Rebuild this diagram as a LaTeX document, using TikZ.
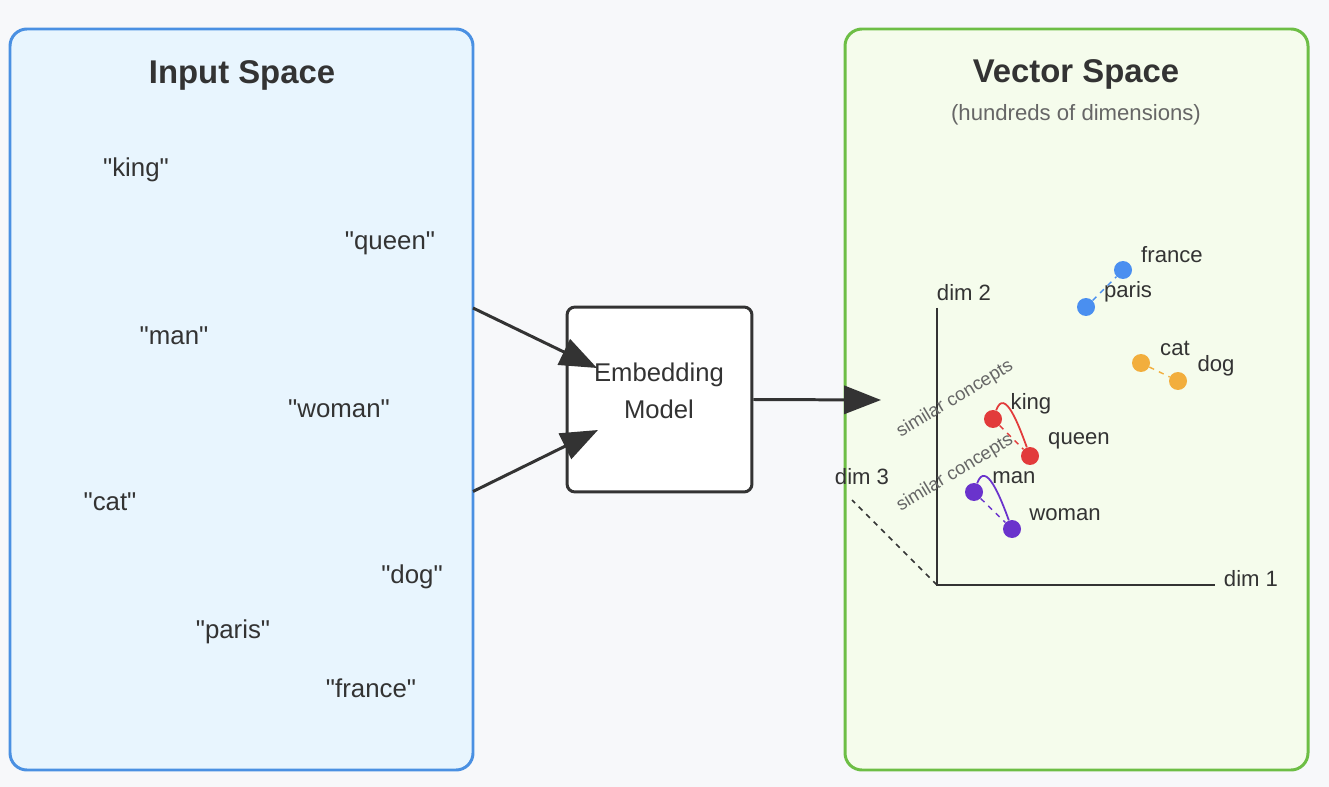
\documentclass[tikz,border=0pt]{standalone}
\usepackage{fontspec}
\setmainfont{Liberation Sans}
\usetikzlibrary{arrows.meta, positioning}
\definecolor{pagebg}{HTML}{F7F8FA}
\definecolor{inblue}{HTML}{4A90E2}
\definecolor{inbluebg}{HTML}{E8F5FE}
\definecolor{vecgreen}{HTML}{6DBE45}
\definecolor{vecgreenbg}{HTML}{F5FCEC}
\definecolor{inkdark}{HTML}{333333}
\definecolor{inkgray}{HTML}{666666}
\definecolor{ptblue}{HTML}{4A8FF0}
\definecolor{ptorange}{HTML}{F2AE3D}
\definecolor{ptred}{HTML}{E23B3B}
\definecolor{ptpurple}{HTML}{6A33CC}
\newcommand{\qword}[1]{\textquotedbl#1\textquotedbl}

\tikzset{
    word/.style={font=\fontsize{14.7}{17}\selectfont, text=inkdark, inner sep=0pt},
    title/.style={font=\fontsize{18.7}{22}\selectfont\bfseries, text=inkdark, inner sep=0pt},
    small/.style={font=\fontsize{12.6}{15}\selectfont, text=inkdark, inner sep=0pt},
    dot/.style={circle, fill=#1, inner sep=0pt, minimum size=0.36cm},
    pair/.style={#1, dashed, line width=0.8pt},
    simcurve/.style={#1, line width=1pt},
    simtext/.style={font=\fontsize{10.5}{12}\selectfont, text=inkgray, inner sep=0pt, rotate=31},
    flow/.style={inkdark, line width=1.7pt, -{Triangle[length=21pt, width=16pt]}}
}

\begin{document}
\begin{tikzpicture}[x=0.02cm, y=-0.02cm]
    % Background and panels
    \fill[pagebg] (0,0) rectangle (1329,787);
    \useasboundingbox (0,0) rectangle (1329,787);
    \draw[inblue, fill=inbluebg, line width=1.7pt, rounded corners=0.34cm] (10,29) rectangle (473,770);
    \draw[vecgreen, fill=vecgreenbg, line width=1.7pt, rounded corners=0.34cm] (845,29) rectangle (1308,770);

    % Input space
    \node[title] (intitle) at (242,75) {Input Space};
    \node[word] (wking) at (136,170) {\qword{king}};
    \node[word] (wqueen) at (390,243) {\qword{queen}};
    \node[word] (wman) at (174,336) {\qword{man}};
    \node[word] (wwoman) at (339,409) {\qword{woman}};
    \node[word] (wcat) at (110,502) {\qword{cat}};
    \node[word] (wdog) at (412,577) {\qword{dog}};
    \node[word] (wparis) at (233,632) {\qword{paris}};
    \node[word] (wfrance) at (371,688) {\qword{france}};

    % Embedding model
    \node[draw=inkdark, fill=white, line width=1.7pt, rounded corners=0.16cm, minimum size=3.7cm] (embed) at (659.5,399.5) {};
    \node[word, align=center, font=\fontsize{14.6}{21}\selectfont] (embedtxt) at (659,391) {Embedding\\Model};

    % Flow arrows
    \coordinate (inA) at (473,308);
    \coordinate (inB) at (473,491.5);
    \coordinate (tipA) at (597,368);
    \coordinate (tipB) at (598,430);
    \coordinate (tipC) at (881,400);
    \draw[flow] (inA) -- (tipA);
    \draw[flow] (inB) -- (tipB);
    \draw[flow] (embed.east) -- (tipC);

    % Vector space
    \node[title] (vectitle) at (1076,74) {Vector Space};
    \node[small, text=inkgray] (vecsub) at (1076,115) {(hundreds of dimensions)};

    % Axes
    \coordinate (origin) at (937,585);
    \coordinate (axtwo) at (937,308);
    \coordinate (axone) at (1215,585);
    \coordinate (axthree) at (852,500);
    \draw[inkdark, line width=0.9pt] (axtwo) -- (origin) -- (axone);
    \draw[inkdark, line width=0.9pt, dashed] (origin) -- (axthree);
    \node[small] (dimtwo) at (964,293) {dim 2};
    \node[small] (dimone) at (1251,579) {dim 1};
    \node[small] (dimthree) at (862,477) {dim 3};

    % Points
    \node[dot=ptblue] (france) at (1123,270) {};
    \node[dot=ptblue] (paris) at (1086,307) {};
    \node[dot=ptorange] (cat) at (1141,363) {};
    \node[dot=ptorange] (dog) at (1178,381) {};
    \node[dot=ptred] (king) at (993,419) {};
    \node[dot=ptred] (queen) at (1030,456) {};
    \node[dot=ptpurple] (man) at (974,492) {};
    \node[dot=ptpurple] (woman) at (1012,529) {};

    \draw[pair=ptblue] (paris) -- (france);
    \draw[pair=ptorange] (cat) -- (dog);
    \draw[pair=ptred] (king) -- (queen);
    \draw[pair=ptpurple] (man) -- (woman);
    \draw[simcurve=ptred] (king) to[out=70, in=110, looseness=1.3] (queen);
    \draw[simcurve=ptpurple] (man) to[out=70, in=110, looseness=1.3] (woman);

    % Point labels
    \node[small] (lfrance) at (1172,255) {france};
    \node[small] (lparis) at (1128,292) {paris};
    \node[small] (lcat) at (1175,348) {cat};
    \node[small] (ldog) at (1216,366) {dog};
    \node[small] (lking) at (1031,404) {king};
    \node[small] (lqueen) at (1079,441) {queen};
    \node[small] (lman) at (1014,478) {man};
    \node[small] (lwoman) at (1065,515) {woman};

    \node[simtext] (simone) at (955,399) {similar concepts};
    \node[simtext] (simtwo) at (955,473) {similar concepts};
\end{tikzpicture}
\end{document}
